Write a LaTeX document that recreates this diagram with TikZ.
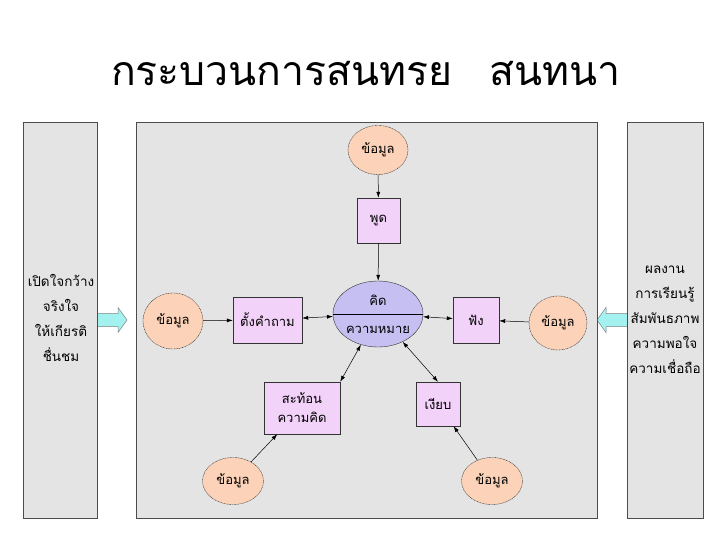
\documentclass[tikz,border=0pt]{standalone}
\usepackage{fontspec}
\newfontfamily\thaifont[Script=Thai]{Loma}
\usetikzlibrary{shapes.geometric,arrows.meta}
\definecolor{panelgray}{HTML}{E4E4E4}
\definecolor{peach}{HTML}{FCD3B8}
\definecolor{lav}{HTML}{F2D2F8}
\definecolor{centerblue}{HTML}{C6C0F2}
\definecolor{cyanarrow}{HTML}{A4F2F0}
\tikzset{
  panel/.style={draw=black!70, line width=0.6pt, fill=panelgray},
  infoell/.style={ellipse, draw=black!80, dashed, dash pattern=on 1pt off 0.6pt, fill=peach, minimum width=60pt, minimum height=50pt, inner sep=0pt, font=\thaifont\fontsize{13}{15}\selectfont},
  actbox/.style={rectangle, draw=black!80, fill=lav, inner sep=0pt, align=center, font=\thaifont\fontsize{13}{19}\selectfont},
  conn/.style={-{Latex[length=6pt,width=4pt]}, line width=0.5pt},
  dconn/.style={{Latex[length=6pt,width=4pt]}-{Latex[length=6pt,width=4pt]}, line width=0.5pt},
  sidetxt/.style={align=center, font=\thaifont\fontsize{13.5}{25}\selectfont},
  blockarrow/.style={draw=black!50, line width=0.5pt, fill=cyanarrow, line join=miter}
}
\begin{document}
\begin{tikzpicture}[x=1pt,y=-1pt]
\useasboundingbox (0,0) rectangle (720,540);
\fill[white] (0,0) rectangle (720,540);
% title
\node[font=\thaifont\fontsize{41}{44}\selectfont, anchor=base] (title) at (366,86) {กระบวนการสนทรย\hspace{0.9em}สนทนา};
% block arrows
\draw[blockarrow] (95,313.5) -- (118,313.5) -- (118,307.5) -- (127,320) -- (118,332.5) -- (118,326.5) -- (95,326.5) -- cycle;
\draw[blockarrow] (629,313.5) -- (606,313.5) -- (606,307.5) -- (597,320) -- (606,332.5) -- (606,326.5) -- (629,326.5) -- cycle;
% panels
\draw[panel] (23,122) rectangle (97,518);
\draw[panel] (136,122) rectangle (597,518);
\draw[panel] (627,122) rectangle (703,518);
\node[sidetxt] (lefttxt) at (61,318) {เปิดใจกว้าง\\จริงใจ\\ให้เกียรติ\\ชื่นชม};
\node[sidetxt] (righttxt) at (665,320) {ผลงาน\\การเรียนรู้\\สัมพันธภาพ\\ความพอใจ\\ความเชื่อถือ};
% center
\node[ellipse, draw=black!80, fill=centerblue, minimum width=90pt, minimum height=66pt, inner sep=0pt] (center) at (378,314) {};
\draw[line width=0.5pt] (center.west) -- (center.east);
\node[font=\thaifont\fontsize{13}{15}\selectfont] (kid) at (378,300) {คิด};
\node[font=\thaifont\fontsize{13}{15}\selectfont] (meaning) at (378,330) {ความหมาย};
% boxes
\node[actbox, minimum width=43pt, minimum height=45pt] (speak) at (378.5,220.5) {พูด};
\node[actbox, minimum width=69pt, minimum height=46pt] (ask) at (267.5,320) {ตั้งคำถาม};
\node[actbox, minimum width=46pt, minimum height=46pt] (listen) at (476,320) {ฟัง};
\node[actbox, minimum width=76pt, minimum height=52pt] (reflect) at (302,408) {สะท้อน\\ความคิด};
\node[actbox, minimum width=44pt, minimum height=44pt] (silent) at (438,404) {เงียบ};
% info ellipses
\node[infoell, minimum width=60pt, minimum height=49pt] (itop) at (378,150) {ข้อมูล};
\node[infoell, minimum width=60pt, minimum height=56pt] (ileft) at (173,321) {ข้อมูล};
\node[infoell, minimum width=58pt, minimum height=54pt] (iright) at (558,323) {ข้อมูล};
\node[infoell, minimum width=61pt, minimum height=47pt] (ibl) at (233,481) {ข้อมูล};
\node[infoell, minimum width=61pt, minimum height=47pt] (ibr) at (492,481) {ข้อมูล};
% connectors
\draw[conn] (itop) -- (speak);
\draw[conn] (speak) -- (center);
\draw[conn] (ileft) -- (ask);
\draw[dconn] (ask) -- (center);
\draw[dconn] (center) -- (listen);
\draw[conn] (iright) -- (listen);
\draw[dconn] (center) -- (reflect.north east);
\draw[dconn] (center) -- (silent.north);
\draw[conn] (ibl) -- (reflect);
\draw[conn] (ibr) -- (silent);
\end{tikzpicture}
\end{document}
